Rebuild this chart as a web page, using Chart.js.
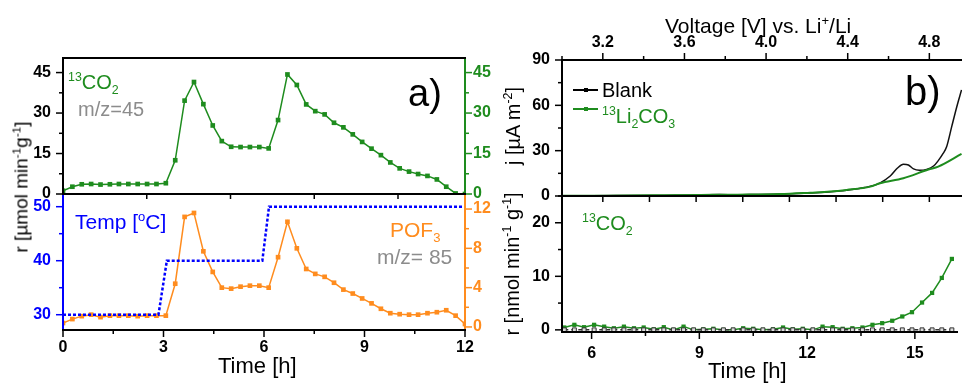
<!DOCTYPE html>
<html>
<head>
<meta charset="utf-8">
<script src="https://cdn.jsdelivr.net/npm/chart.js@4.4.1/dist/chart.umd.min.js"></script>
<style>
body { margin: 0; width: 962px; height: 385px; overflow: hidden; background: #fff; position: relative;
       font-family: "Liberation Sans", Arial, sans-serif; }
canvas { position: absolute; left: 0; top: 0; }
.t { position: absolute; white-space: nowrap; line-height: 1; }
.rot { transform: translate(-50%, -50%) rotate(-90deg); }
sup, sub { font-size: 62%; line-height: 0; }
.leg { position: absolute; height: 0; border-top: 2px solid; }
.dot { position: absolute; width: 4px; height: 4px; }
</style>
</head>
<body>
<canvas id="aTop" width="962" height="385"></canvas>
<canvas id="aBot" width="962" height="385"></canvas>
<canvas id="bTop" width="962" height="385"></canvas>
<canvas id="bBot" width="962" height="385"></canvas>

<!-- panel a labels -->
<div class="t rot" style="left:21px;top:187px;font-size:19px">r [µmol min<sup>-1</sup>g<sup>-1</sup>]</div>
<div class="t" style="left:68px;top:72px;font-size:20px;color:#1e8c1e"><sup>13</sup>CO<sub>2</sub></div>
<div class="t" style="left:78px;top:99px;font-size:20px;color:#8c8c8c">m/z=45</div>
<div class="t" style="left:408px;top:74px;font-size:38px">a)</div>
<div class="t" style="left:75px;top:211px;font-size:21px;color:#0000ff">Temp [<sup>o</sup>C]</div>
<div class="t" style="left:390px;top:219px;font-size:21px;color:#ff8c1e">POF<sub>3</sub></div>
<div class="t" style="left:377px;top:246px;font-size:21px;color:#8c8c8c">m/z= 85</div>
<div class="t" style="left:218px;top:355px;font-size:22px">Time [h]</div>

<!-- panel b labels -->
<div class="t" style="left:665px;top:15px;font-size:21px">Voltage [V] vs. Li<sup>+</sup>/Li</div>
<div class="t rot" style="left:513px;top:126px;font-size:20px">j [µA m<sup>-2</sup>]</div>
<div class="t rot" style="left:512px;top:264px;font-size:20px">r [nmol min<sup>-1</sup> g<sup>-1</sup>]</div>
<div class="t" style="left:905px;top:71px;font-size:40px">b)</div>
<div class="leg" style="left:573px;top:89px;width:25px;border-color:#000"></div>
<div class="dot" style="left:584px;top:88px;background:#000"></div>
<div class="t" style="left:602px;top:80px;font-size:20px">Blank</div>
<div class="leg" style="left:573px;top:108px;width:25px;border-color:#1e8c1e"></div>
<div class="dot" style="left:584px;top:107px;background:#1e8c1e"></div>
<div class="t" style="left:602px;top:106px;font-size:20px;color:#1e8c1e"><sup>13</sup>Li<sub>2</sub>CO<sub>3</sub></div>
<div class="t" style="left:582px;top:213px;font-size:20px;color:#1e8c1e"><sup>13</sup>CO<sub>2</sub></div>
<div class="t" style="left:708px;top:360px;font-size:22px">Time [h]</div>

<script>
// ---- panel a: 13CO2 / POF3 evolution and temperature programme
const timeA = [0, 0.28, 0.56, 0.84, 1.12, 1.40, 1.67, 1.95, 2.23, 2.51, 2.79, 3.07, 3.35, 3.63, 3.91,
  4.19, 4.47, 4.74, 5.02, 5.30, 5.58, 5.86, 6.14, 6.42, 6.70, 6.98, 7.26, 7.53, 7.81, 8.09, 8.37,
  8.65, 8.93, 9.21, 9.49, 9.77, 10.05, 10.33, 10.60, 10.88, 11.16, 11.44, 11.72, 12.0];
const co2A = [1.2, 2.7, 3.6, 3.7, 3.5, 3.6, 3.7, 3.7, 3.7, 3.7, 3.7, 4.0, 12.5, 34.6, 41.5,
  33.3, 25.4, 19.6, 17.5, 17.4, 17.4, 17.4, 16.9, 27.4, 44.3, 40.4, 33.2, 30.7, 29.5, 26.4, 24.7,
  22.1, 19.3, 16.8, 14.4, 11.7, 9.5, 8.3, 7.4, 6.7, 5.4, 2.7, 0.2, 0];
const pofA = [0.4, 0.8, 1.1, 1.25, 1.0, 1.15, 1.15, 1.15, 1.1, 1.15, 1.15, 1.15, 4.4, 11.2, 11.6,
  7.7, 5.6, 4.0, 3.9, 4.1, 4.2, 4.2, 4.0, 7.1, 10.7, 8.0, 5.9, 5.4, 5.1, 4.5, 3.8,
  3.4, 2.9, 2.4, 1.85, 1.4, 1.3, 1.25, 1.25, 1.4, 1.5, 1.7, 1.15, 0.3];
const tempTime = [0, 2.85, 3.1, 5.95, 6.15, 12];
const tempVal = [30, 30, 40, 40, 50, 50];

const aCo2Ticks = [0, 15, 30, 45];
const aTempTicks = [30, 40, 50];
const aPofTicks = [0, 4, 8, 12];
const aTimeTicks = [0, 3, 6, 9, 12];

// ---- panel b: current density and 13CO2 from the carbonate electrode
const timeJ = [5.18, 6, 7, 8, 9, 9.5, 10, 10.5, 11, 11.5, 12, 12.5, 13, 13.5, 13.9, 14.2, 14.4,
  14.56, 14.7, 14.84, 15.0, 15.2, 15.4, 15.52, 15.65, 15.75, 15.89, 16.03, 16.16];
const blankJ = [0.1, 0.2, 0.3, 0.4, 0.6, 1.0, 0.8, 1.0, 1.2, 1.5, 2.0, 2.7, 3.8, 5.6, 8.4, 13.2, 18.5,
  21, 20.5, 17.9, 17.0, 17.6, 20, 23.4, 28, 32.6, 45.9, 59.1, 70.2];
const timeL = [5.18, 6, 7, 8, 9, 10, 11.17, 12, 12.55, 13, 13.65, 13.92, 14.56, 15.25, 15.52, 16.16];
const li2co3J = [0.1, 0.2, 0.3, 0.5, 0.7, 0.9, 1.3, 2.2, 2.9, 4.0, 6.2, 8.4, 11.7, 17.5, 19.4, 27.8];

const timeB = [5.24, 5.52, 5.79, 6.07, 6.35, 6.62, 6.90, 7.18, 7.45, 7.73, 8.01, 8.28, 8.56, 8.84,
  9.11, 9.39, 9.67, 9.94, 10.22, 10.50, 10.77, 11.05, 11.33, 11.60, 11.88, 12.16, 12.43, 12.71,
  12.99, 13.26, 13.54, 13.82, 14.09, 14.37, 14.65, 14.92, 15.20, 15.48, 15.75, 16.03];
const co2B = [0.44, 0.94, 0.5, 0.94, 0.6, 0.3, 0.6, 0.3, 0.44, 0.1, 0.5, 0, 0.6, 0, 0.1, 0.2, 0, 0,
  0.3, 0.2, 0, 0.1, 0.44, 0.1, 0.2, 0, 0.6, 0.5, 0.2, 0.3, 0.44, 0.94, 1.25, 1.7, 2.5, 3.3, 5.1,
  6.9, 9.7, 13.25];
const blankB = [0, 0, 0, 0, 0, 0, 0, 0, 0, 0, 0, 0, 0, 0, 0, 0, 0, 0, 0, 0, 0, 0, 0, 0, 0, 0, 0, 0,
  0, 0, 0, 0, 0, 0, 0, 0, 0, 0, 0, 0];

const bJTicks = [0, 30, 60, 90];
const bVoltTicks = [3.2, 3.6, 4.0, 4.4, 4.8];
const bRTicks = [0, 10, 20];
const bTimeTicks = [6, 9, 12, 15];

const FONT = "'Liberation Sans', Arial, sans-serif";
const GREEN = '#1e8c1e', ORANGE = '#ff8c1e', BLUE = '#0000ff';

function pts(xs, ys) {
  return xs.map((x, i) => ({x: x, y: ys[i]}));
}

// every axis gets a fixed size, so layout padding + size puts the plot boxes where the figure has them
function axis(pos, min, max, list, color, pad, size, fmt) {
  return {
    type: 'linear', position: pos, min: min, max: max,
    grid: {drawOnChartArea: false, drawTicks: false},
    border: {display: false},
    ticks: {display: !!list, color: color, padding: pad, autoSkip: false, maxRotation: 0,
            font: {family: FONT, size: 16, weight: 'bold'},
            callback: fmt || (v => v)},
    afterBuildTicks(s) { if (list) s.ticks = list.map(v => ({value: v})); },
    afterFit(s) { if (s.isHorizontal()) s.height = size; else s.width = size; }
  };
}

// draws the plot frame and the major/minor tick marks
const framePlugin = {
  id: 'frame',
  afterDatasetsDraw(chart, args, o) {
    const ctx = chart.ctx, a = chart.chartArea;
    ctx.save();
    ctx.lineWidth = 1.5;
    (o.ticks || []).forEach(t => {
      const s = chart.scales[t.id];
      const ratio = Math.round(t.major / t.minor);
      ctx.strokeStyle = t.color;
      for (let k = Math.ceil(s.min / t.minor - 1e-6); k <= Math.floor(s.max / t.minor + 1e-6); k++) {
        const p = s.getPixelForValue(k * t.minor);
        const len = t.len || (k % ratio === 0 ? 7 : 4);
        ctx.beginPath();
        if (t.side === 'left') { ctx.moveTo(a.left, p); ctx.lineTo(a.left - len, p); }
        if (t.side === 'right') { ctx.moveTo(a.right, p); ctx.lineTo(a.right + len, p); }
        if (t.side === 'top') { ctx.moveTo(p, a.top); ctx.lineTo(p, a.top - len); }
        if (t.side === 'bottom') { ctx.moveTo(p, a.bottom); ctx.lineTo(p, a.bottom + len); }
        ctx.stroke();
      }
    });
    ctx.lineWidth = 2;
    const e = o.edges || {};
    const seg = (c, x1, y1, x2, y2) => {
      if (!c) return;
      ctx.strokeStyle = c;
      ctx.beginPath(); ctx.moveTo(x1, y1); ctx.lineTo(x2, y2); ctx.stroke();
    };
    seg(e.left, a.left, a.top, a.left, a.bottom);
    seg(e.right, a.right, a.top, a.right, a.bottom);
    seg(e.top, a.left - 1, a.top, a.right + 1, a.top);
    seg(e.bottom, a.left - 1, a.bottom, a.right + 1, a.bottom);
    ctx.restore();
  }
};

function opts(pad, scales, frame) {
  return {
    responsive: false, animation: false,
    layout: {padding: pad},
    plugins: {legend: {display: false}, tooltip: {enabled: false}, frame: frame},
    scales: scales
  };
}

function marked(data, color, yAxisID, r) {
  return {data: data, yAxisID: yAxisID, borderColor: color, backgroundColor: color, borderWidth: 1.5,
          pointStyle: 'rect', pointRadius: r, pointBorderWidth: 0, tension: 0};
}

// plot boxes: a) x 63-465, y 58-194 / 194-330;  b) x 562-962+, y 60-196 / 196-332
new Chart(document.getElementById('aTop'), {
  type: 'line',
  data: {datasets: [marked(pts(timeA, co2A), GREEN, 'y', 3.3)]},
  options: opts({left: 3, right: 462, top: 58, bottom: 191}, {
    x: axis('bottom', 0, 12, null, '#000', 0, 0),
    y: axis('left', 0, 50.4, aCo2Ticks, '#000', 12, 60),
    y2: axis('right', 0, 50.4, aCo2Ticks, GREEN, 8, 35)
  }, {
    edges: {top: '#000', left: '#000', right: GREEN},
    ticks: [{id: 'y', side: 'left', minor: 7.5, major: 15, color: '#000'},
            {id: 'y2', side: 'right', minor: 7.5, major: 15, color: GREEN},
            {id: 'x', side: 'bottom', minor: 2.5, major: 2.5, len: 5, color: '#000'}]
  }),
  plugins: [framePlugin]
});

new Chart(document.getElementById('aBot'), {
  type: 'line',
  data: {datasets: [
    {data: pts(tempTime, tempVal), yAxisID: 'y', borderColor: BLUE, borderWidth: 2.5,
     borderDash: [3, 2], pointRadius: 0, tension: 0},
    marked(pts(timeA, pofA), ORANGE, 'y2', 3.3)
  ]},
  options: opts({left: 3, right: 462, top: 194, bottom: 25}, {
    x: axis('bottom', 0, 12, aTimeTicks, '#000', 8, 30),
    y: axis('left', 27.17, 52.35, aTempTicks, BLUE, 12, 60),
    y2: axis('right', -0.31, 13.53, aPofTicks, ORANGE, 8, 35)
  }, {
    edges: {top: '#000', bottom: '#000', left: BLUE, right: ORANGE},
    ticks: [{id: 'y', side: 'left', minor: 5, major: 10, color: BLUE},
            {id: 'y2', side: 'right', minor: 2, major: 4, color: ORANGE},
            {id: 'x', side: 'bottom', minor: 1.5, major: 3, color: '#000'}]
  }),
  plugins: [framePlugin]
});

new Chart(document.getElementById('bTop'), {
  type: 'line',
  data: {datasets: [
    {data: pts(timeL, li2co3J), borderColor: GREEN, borderWidth: 2, pointRadius: 0,
     cubicInterpolationMode: 'monotone'},
    {data: pts(timeJ, blankJ), borderColor: '#111', borderWidth: 1.5, pointRadius: 0,
     cubicInterpolationMode: 'monotone'}
  ]},
  options: opts({left: 502, right: 0, top: 20, bottom: 189}, {
    x: axis('bottom', 5.176, 16.173, null, '#000', 0, 0),
    v: axis('top', 3.0, 4.96, bVoltTicks, '#000', 8, 40, v => v.toFixed(1)),
    y: axis('left', 0, 90, bJTicks, '#000', 12, 60)
  }, {
    edges: {top: '#000', left: '#000', bottom: '#000'},
    ticks: [{id: 'y', side: 'left', minor: 15, major: 30, color: '#000'},
            {id: 'v', side: 'top', minor: 0.2, major: 0.4, color: '#000'},
            {id: 'v', side: 'bottom', minor: 1.6 / 7, major: 1.6 / 7, len: 6, color: '#000'}]
  }),
  plugins: [framePlugin]
});

new Chart(document.getElementById('bBot'), {
  type: 'line',
  data: {datasets: [
    {data: pts(timeB, blankB), borderColor: '#333', backgroundColor: '#ddd', borderWidth: 1.5,
     borderDash: [4, 3], pointStyle: 'rect', pointRadius: 2.8, pointBorderWidth: 1, tension: 0},
    marked(pts(timeB, co2B), GREEN, 'y', 3)
  ]},
  options: opts({left: 502, right: 0, top: 196, bottom: 23}, {
    x: axis('bottom', 5.176, 16.173, bTimeTicks, '#000', 12, 30),
    y: axis('left', -0.4, 25, bRTicks, '#000', 12, 60)
  }, {
    edges: {top: '#000', left: '#000', bottom: '#000'},
    ticks: [{id: 'y', side: 'left', minor: 5, major: 10, color: '#000'},
            {id: 'x', side: 'bottom', minor: 1.5, major: 3, color: '#000'}]
  }),
  plugins: [framePlugin]
});
</script>
</body>
</html>
